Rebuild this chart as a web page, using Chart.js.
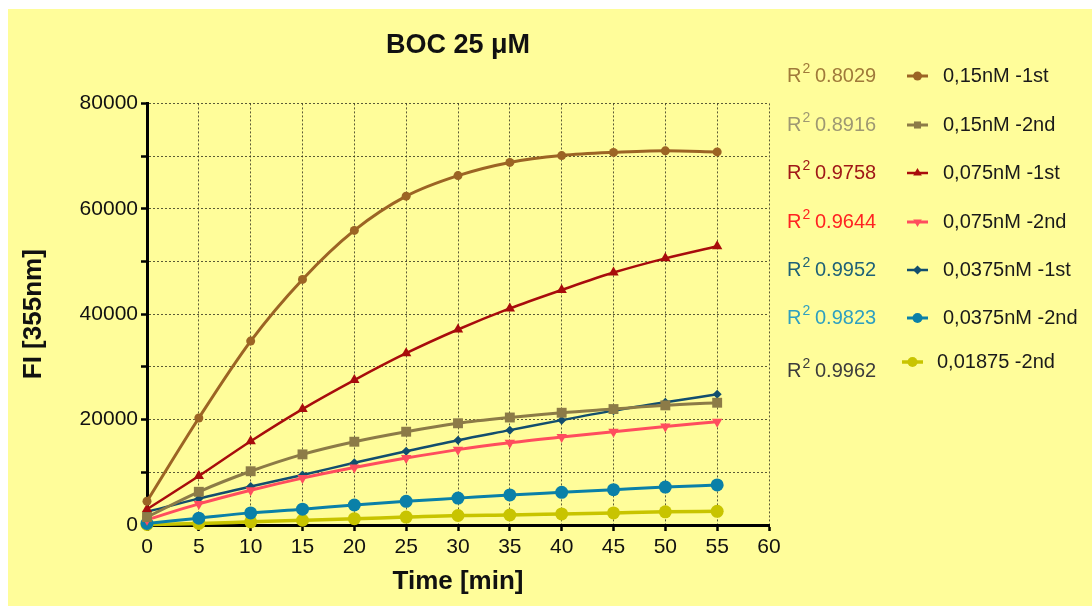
<!DOCTYPE html>
<html>
<head>
<meta charset="utf-8">
<script src="https://cdn.jsdelivr.net/npm/chart.js@4/dist/chart.umd.min.js"></script>
<style>
    html, body { margin: 0; padding: 0; background: #ffffff; }
    #wrap { width: 1092px; height: 606px; position: relative; }
</style>
</head>
<body>
<div id="wrap"><canvas id="chart" width="1092" height="606"></canvas></div>
<script>
// Data
const times = [0, 5, 10, 15, 20, 25, 30, 35, 40, 45, 50, 55];

const s015first  = [4500, 20300, 34900, 46600, 55900, 62400, 66300, 68800, 70100, 70700, 71000, 70800];
const s015second = [1500, 6300, 10200, 13400, 15800, 17700, 19300, 20400, 21300, 22000, 22700, 23200];
const s075first  = [3000, 9300, 15900, 22000, 27500, 32600, 37100, 41100, 44600, 47900, 50600, 52900];
const s075second = [1000, 4000, 6600, 8900, 10900, 12700, 14300, 15600, 16700, 17700, 18700, 19600];
const s0375first = [2500, 5000, 7300, 9500, 11800, 14000, 16100, 18000, 19900, 21700, 23300, 24800];
const s0375second = [300, 1300, 2300, 3000, 3800, 4500, 5100, 5700, 6200, 6700, 7200, 7600];
const s01875second = [100, 300, 600, 900, 1200, 1500, 1800, 1900, 2100, 2300, 2500, 2600];

const seriesLabels = ['0,15nM -1st', '0,15nM -2nd', '0,075nM -1st', '0,075nM -2nd',
    '0,0375nM -1st', '0,0375nM -2nd', '0,01875 -2nd'];
const rSquared = ['0.8029', '0.8916', '0.9758', '0.9644', '0.9952', '0.9823', '0.9962'];

const xTicks = [0, 5, 10, 15, 20, 25, 30, 35, 40, 45, 50, 55, 60];

// Styles
const lineColors = ['#9c6424', '#8c7b47', '#a80c0c', '#ff4d5e', '#124e6e', '#0a80a8', '#c8c400'];
const r2Colors = ['#a07a3a', '#9e9872', '#a01818', '#ff2222', '#1f6278', '#2fa0c0', '#3c3c3c'];
const pointStyles = ['circle', 'rect', 'triangle', 'triangle', 'rectRot', 'circle', 'circle'];
const pointRotations = [0, 0, 0, 180, 0, 0, 0];
const pointSizes = [4.5, 7, 6, 6, 4.5, 6.5, 6.5];
const lineWidths = [3, 3, 2.5, 3, 2.5, 3, 3.5];

const allSeries = [s015first, s015second, s075first, s075second, s0375first, s0375second, s01875second];

const FONT = '"Liberation Sans", Arial, sans-serif';

const datasets = allSeries.map((values, i) => ({
    label: seriesLabels[i],
    data: values.map((v, k) => ({ x: times[k], y: v })),
    borderColor: lineColors[i],
    backgroundColor: lineColors[i],
    borderWidth: lineWidths[i],
    pointStyle: pointStyles[i],
    rotation: pointRotations[i],
    pointRadius: pointSizes[i],
    pointBorderWidth: 0,
    cubicInterpolationMode: 'monotone',
    clip: false
}));

// Yellow panel behind everything
const panelPlugin = {
    id: 'panel',
    beforeDraw(chart) {
        const ctx = chart.ctx;
        ctx.save();
        ctx.fillStyle = '#fffd9a';
        ctx.fillRect(8, 9, chart.width - 8, chart.height - 9);
        ctx.restore();
    }
};

// R² values and legend on the right
const sideLegendPlugin = {
    id: 'sideLegend',
    afterDraw(chart) {
        const ctx = chart.ctx;
        const rowY = [76, 125, 173, 222, 270, 318, 362];
        ctx.save();
        chart.data.datasets.forEach((ds, i) => {
            const y = rowY[i];
            const ry = i === 6 ? 371 : y;
            // R² text
            ctx.fillStyle = r2Colors[i];
            ctx.textBaseline = 'middle';
            ctx.textAlign = 'left';
            ctx.font = '20px ' + FONT;
            ctx.fillText('R', 787, ry);
            const rw = ctx.measureText('R').width;
            ctx.font = '14px ' + FONT;
            ctx.fillText('2', 787 + rw + 1, ry - 7);
            ctx.font = '20px ' + FONT;
            ctx.fillText(rSquared[i], 815, ry);

            // legend swatch
            const x0 = i === 6 ? 902 : 907;
            const x1 = x0 + 21;
            ctx.strokeStyle = ds.borderColor;
            ctx.lineWidth = ds.borderWidth;
            ctx.beginPath();
            ctx.moveTo(x0, y);
            ctx.lineTo(x1, y);
            ctx.stroke();
            ctx.fillStyle = ds.backgroundColor;
            Chart.helpers.drawPoint(ctx, {
                pointStyle: ds.pointStyle,
                rotation: ds.rotation,
                radius: Math.min(ds.pointRadius, 5),
                borderWidth: 0
            }, (x0 + x1) / 2, y);

            // legend label
            ctx.fillStyle = '#1a1a1a';
            ctx.font = '20px ' + FONT;
            ctx.fillText(ds.label, i === 6 ? 937 : 943, y);
        });
        ctx.restore();
    }
};

const ctx = document.getElementById('chart').getContext('2d');
new Chart(ctx, {
    type: 'line',
    data: { datasets },
    plugins: [panelPlugin, sideLegendPlugin],
    options: {
        responsive: false,
        animation: false,
        layout: { padding: { left: 18, right: 323, top: 0, bottom: 9 } },
        plugins: {
            legend: { display: false },
            tooltip: { enabled: false },
            title: {
                display: true,
                text: 'BOC 25 \u03BCM',
                color: '#111',
                fullSize: false,
                font: { family: FONT, size: 27, weight: 'bold' },
                padding: { top: 29, bottom: 42 }
            }
        },
        scales: {
            x: {
                type: 'linear',
                min: 0,
                max: 60,
                afterBuildTicks: scale => { scale.ticks = xTicks.map(v => ({ value: v })); },
                afterFit: scale => { scale.height = 72; },
                ticks: {
                    color: '#111',
                    font: { family: FONT, size: 21 },
                    padding: 4,
                    maxRotation: 0
                },
                grid: {
                    color: 'rgba(50, 50, 30, 0.8)',
                    lineWidth: 1,
                    tickColor: '#000',
                    tickWidth: 2.5,
                    tickLength: 6
                },
                border: { color: '#000', width: 3, dash: [2, 2] },
                title: {
                    display: true,
                    text: 'Time [min]',
                    color: '#111',
                    font: { family: FONT, size: 26, weight: 'bold' },
                    padding: { top: 0, bottom: 0 }
                }
            },
            y: {
                min: 0,
                max: 80000,
                afterFit: scale => { scale.width = 129; },
                ticks: {
                    stepSize: 10000,
                    color: '#111',
                    font: { family: FONT, size: 21 },
                    padding: 3,
                    callback: v => (v % 20000 === 0 ? String(v) : '')
                },
                grid: {
                    color: 'rgba(50, 50, 30, 0.8)',
                    lineWidth: 1,
                    tickColor: '#000',
                    tickWidth: 2.5,
                    tickLength: 6
                },
                border: { color: '#000', width: 3, dash: [2, 2] },
                title: {
                    display: true,
                    text: 'FI [355nm]',
                    color: '#111',
                    font: { family: FONT, size: 26, weight: 'bold' },
                    padding: { top: 0, bottom: 0 }
                }
            }
        }
    }
});
</script>
</body>
</html>
